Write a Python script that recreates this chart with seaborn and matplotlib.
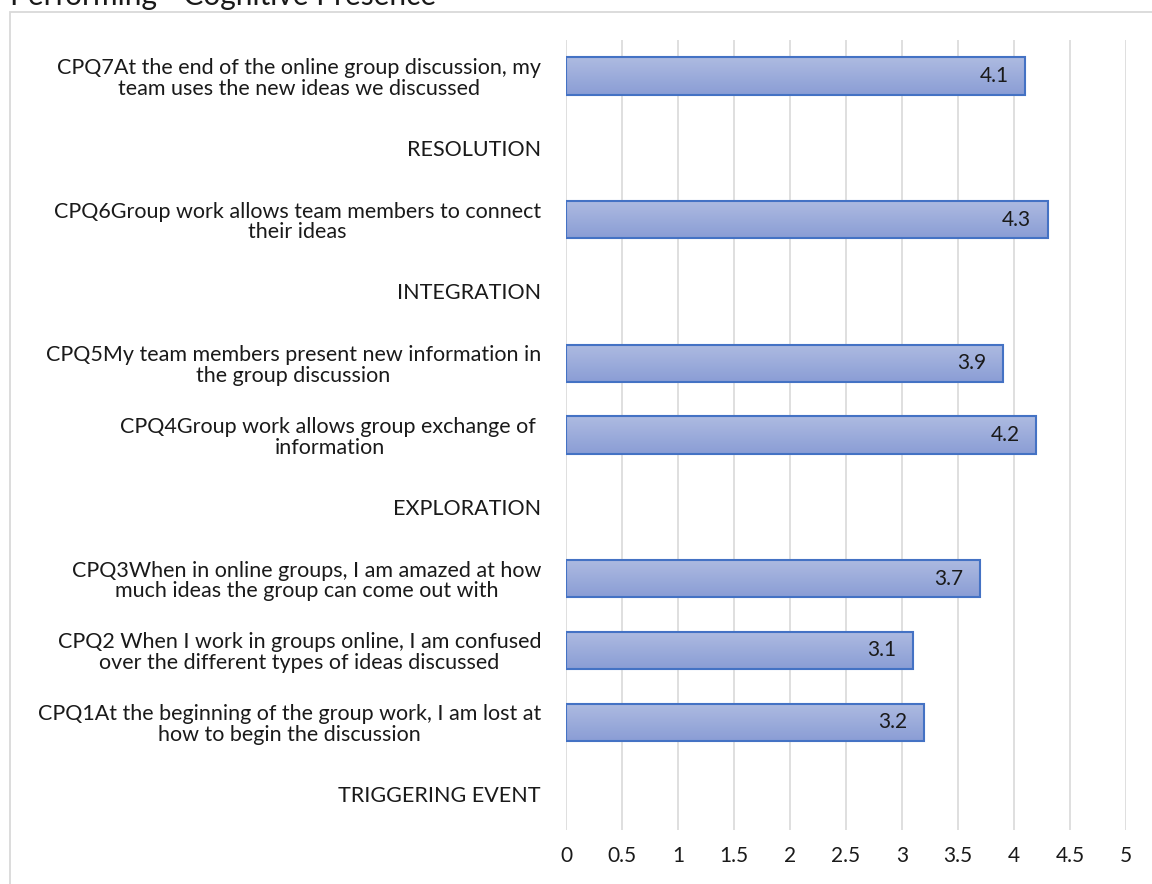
import numpy as np
import pandas as pd
import matplotlib
matplotlib.use("Agg")
import matplotlib.pyplot as plt
from matplotlib.patches import Rectangle
import seaborn as sns

# Row labels, top to bottom (phase headers have no bar)
categories = [
    "CPQ7At the end of the online group discussion, my\nteam uses the new ideas we discussed",
    "RESOLUTION",
    "CPQ6Group work allows team members to connect\ntheir ideas",
    "INTEGRATION",
    "CPQ5My team members present new information in\nthe group discussion",
    "CPQ4Group work allows group exchange of \ninformation",
    "EXPLORATION",
    "CPQ3When in online groups, I am amazed at how\nmuch ideas the group can come out with",
    "CPQ2 When I work in groups online, I am confused\nover the different types of ideas discussed",
    "CPQ1At the beginning of the group work, I am lost at\nhow to begin the discussion",
    "TRIGGERING EVENT",
]
questions = [categories[0], categories[2], categories[4], categories[5],
             categories[7], categories[8], categories[9]]
scores = [4.1, 4.3, 3.9, 4.2, 3.7, 3.1, 3.2]
x_ticks = [0, 0.5, 1, 1.5, 2, 2.5, 3, 3.5, 4, 4.5, 5]
title = "Performing - Cognitive Presence"

df = pd.DataFrame({"question": questions, "score": scores})

sns.set_theme(style="white")
plt.rcParams["font.family"] = ["Lato", "DejaVu Sans"]

fig = plt.figure(figsize=(11.52, 8.84), dpi=100)
W, H = 1152, 884
ax = fig.add_axes([566 / W, 1 - 830 / H, (1126 - 566) / W, (830 - 40) / H])

sns.barplot(data=df, x="score", y="question", order=categories, orient="h",
            color="#9aabdb", edgecolor="#4472c4", linewidth=1.5, width=0.52,
            saturation=1, ax=ax)

# vertical gradient fill inside each bar
grad = np.linspace(0, 1, 256).reshape(-1, 1)
cmap = matplotlib.colors.LinearSegmentedColormap.from_list(
    "barfill", ["#aebbe1", "#8a9dd5"])
for p in ax.patches:
    x0, y0 = p.get_x(), p.get_y()
    w, h = p.get_width(), p.get_height()
    if not np.isfinite(w) or w == 0:
        continue
    im = ax.imshow(grad, cmap=cmap, aspect="auto",
                   extent=[x0, x0 + w, y0 + h, y0], origin="upper",
                   zorder=1.5, interpolation="bilinear")
    im.set_clip_path(p)
    p.set_facecolor("none")
    p.set_zorder(2)

# value labels inside the bar ends
for q, v in zip(questions, scores):
    ax.annotate(f"{v}", xy=(v, categories.index(q)), xytext=(-12, 0),
                textcoords="offset points", ha="right", va="center",
                fontsize=15, color="#1a1a1a", zorder=3)

ax.set_xlim(0, 5)
ax.set_ylim(len(categories) - 0.5, -0.5)
ax.set_xticks(x_ticks)
ax.set_xticklabels([f"{t:g}" for t in x_ticks])
ax.xaxis.grid(True, color="#d9d9d9", linewidth=1.2)
ax.yaxis.grid(False)
ax.set_axisbelow(True)
for s in ax.spines.values():
    s.set_visible(False)
ax.set_xlabel("")
ax.set_ylabel("")
ax.tick_params(axis="x", length=0, pad=11.5, labelsize=15, labelcolor="#1a1a1a")
ax.tick_params(axis="y", length=0, pad=18, labelsize=15.5, labelcolor="#1a1a1a")
for lab in ax.get_yticklabels():
    lab.set_multialignment("center")
    lab.set_linespacing(1.05)

# chart frame and title
fig.patches.append(Rectangle((10 / W, -0.1), 2, (H - 12) / H + 0.1,
                             transform=fig.transFigure, fill=False,
                             edgecolor="#d9d9d9", linewidth=1.3))
fig.text(10 / W, 1 - 5 / H, title, ha="left", va="baseline",
         fontsize=21.5, color="#1a1a1a")

fig.savefig("out.png", dpi=100)
